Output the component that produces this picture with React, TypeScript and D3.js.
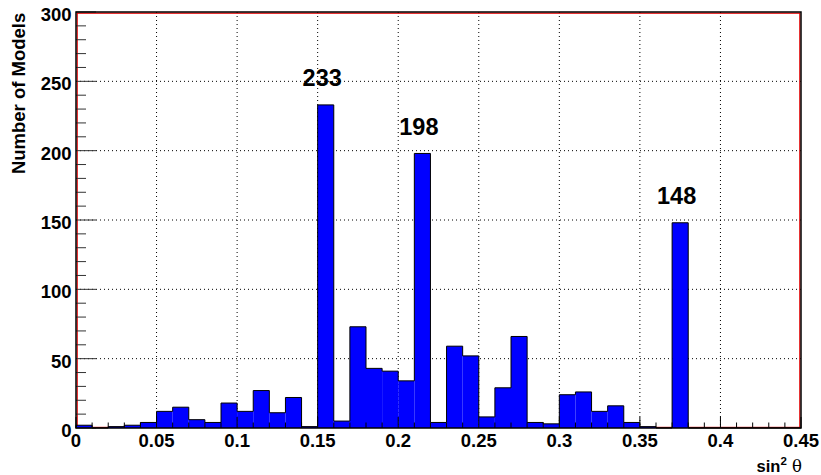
import React from "react";
import * as d3 from "d3";

const binEdges0 = 0;
const binWidth = 0.01;
const counts = [2, 0, 1, 2, 4, 12, 15, 6, 4, 18, 12, 27, 11, 22, 1, 233, 5, 73, 43, 41, 34, 198, 4, 59, 52, 8, 29, 66, 4, 3, 24, 26, 12, 16, 4, 1, 0, 148, 0, 0, 0, 0, 0, 0, 0];
const xTicks = [0, 0.05, 0.1, 0.15, 0.2, 0.25, 0.3, 0.35, 0.4, 0.45];
const yTicks = [0, 50, 100, 150, 200, 250, 300];
const peakLabels = [
  { bin: 15, text: "233" },
  { bin: 21, text: "198" },
  { bin: 37, text: "148" },
];

const W = 821, H = 475;
const L = 76, R = 801, T = 12, B = 428;

export default function App() {
  const x = d3.scaleLinear().domain([0, 0.45]).range([L, R]);
  const y = d3.scaleLinear().domain([0, 300]).range([B, T]);
  const font = "'Liberation Sans', Arial, Helvetica, sans-serif";

  const bins = counts.map((c, i) => ({ x0: binEdges0 + i * binWidth, x1: binEdges0 + (i + 1) * binWidth, c }));

  let env = `M${x(0)},${y(0)}`;
  bins.forEach((b) => {
    env += `L${x(b.x0)},${y(b.c)}L${x(b.x1)},${y(b.c)}`;
  });
  env += `L${x(0.45)},${y(0)}`;

  const minorX = d3.range(0, 46).map((i) => i * 0.01);
  const minorY = d3.range(0, 31).map((i) => i * 10);
  const fmtX = (v: number) => (v === 0 ? "0" : String(+v.toFixed(2)));

  return (
    <svg width={W} height={H} style={{ position: "absolute", left: 0, top: 0, background: "#fff" }}>
      <rect x={0} y={0} width={W} height={H} fill="#fff" />
      {xTicks.slice(1, -1).map((t) => (
        <line key={"gx" + t} x1={x(t)} x2={x(t)} y1={T} y2={B} stroke="#000" strokeWidth={1} strokeDasharray="1,3" />
      ))}
      {yTicks.slice(1, -1).map((t) => (
        <line key={"gy" + t} x1={L} x2={R} y1={y(t)} y2={y(t)} stroke="#000" strokeWidth={1} strokeDasharray="1,3" />
      ))}
      <rect x={L + 1.2} y={T + 1.2} width={R - L - 2.4} height={B - T - 1.8} fill="none" stroke="#e00000" strokeWidth={1.2} />
      {bins.map((b, i) =>
        b.c > 0 ? (
          <rect key={i} x={x(b.x0)} y={y(b.c)} width={x(b.x1) - x(b.x0)} height={y(0) - y(b.c)} fill="#0000ff" />
        ) : null
      )}
      <path d={env} fill="none" stroke="#000" strokeWidth={1} />
      {minorX.map((t, i) => {
        const major = i % 5 === 0;
        return <line key={"tx" + i} x1={x(t)} x2={x(t)} y1={B} y2={B - (major ? 11 : 5.5)} stroke="#000" strokeWidth={1} />;
      })}
      {minorY.map((t, i) => {
        const major = i % 5 === 0;
        return <line key={"ty" + i} x1={L} x2={L + (major ? 20 : 10)} y1={y(t)} y2={y(t)} stroke="#333" strokeWidth={1} />;
      })}
      <rect x={L} y={T} width={R - L} height={B - T} fill="none" stroke="#000" strokeWidth={1.5} />
      {xTicks.map((t) => (
        <text key={"lx" + t} x={x(t)} y={B + 19} textAnchor="middle" fontFamily={font} fontWeight="bold" fontSize={18.5}>
          {fmtX(t)}
        </text>
      ))}
      {yTicks.map((t) => (
        <text key={"ly" + t} x={L - 4.5} y={y(t) + 9} textAnchor="end" fontFamily={font} fontWeight="bold" fontSize={18.5}>
          {t}
        </text>
      ))}
      {peakLabels.map((p) => (
        <text
          key={p.text}
          x={x(bins[p.bin].x0 + binWidth / 2) - 3.5}
          y={y(bins[p.bin].c) - 18.5}
          textAnchor="middle"
          fontFamily={font}
          fontWeight="bold"
          fontSize={23.5}
        >
          {p.text}
        </text>
      ))}
      <text x={0} y={0} transform={`translate(25,${T + 0.7}) rotate(-90)`} textAnchor="end" fontFamily={font} fontWeight="bold" fontSize={18.5}>
        Number of Models
      </text>
      <text x={R + 1} y={472} textAnchor="end" fontFamily={font} fontSize={16.5}>
        <tspan fontWeight="bold">sin</tspan>
        <tspan fontWeight="bold" fontSize={11.5} dy={-7}>2</tspan>
        <tspan dy={7} fontFamily="'DejaVu Serif', serif"> θ</tspan>
      </text>
    </svg>
  );
}
